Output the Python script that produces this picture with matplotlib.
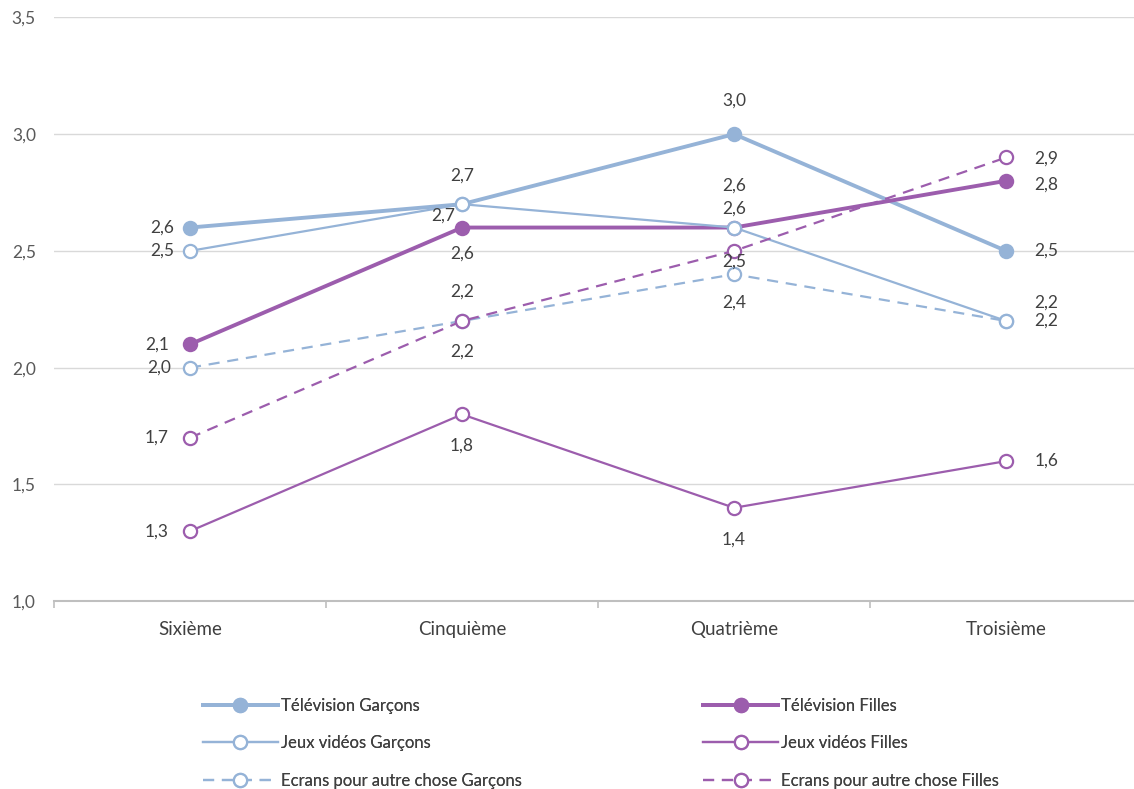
import matplotlib
matplotlib.use("Agg")
import matplotlib.pyplot as plt
from matplotlib.ticker import FuncFormatter, FixedLocator

plt.rcParams['font.family'] = ['Lato', 'DejaVu Sans']

categories = ["Sixième", "Cinquième", "Quatrième", "Troisième"]

tv_garcons = [2.6, 2.7, 3.0, 2.5]
tv_filles = [2.1, 2.6, 2.6, 2.8]
jeux_garcons = [2.5, 2.7, 2.6, 2.2]
jeux_filles = [1.3, 1.8, 1.4, 1.6]
ecrans_garcons = [2.0, 2.2, 2.4, 2.2]
ecrans_filles = [1.7, 2.2, 2.5, 2.9]

BLUE = "#95B3D7"
PURPLE = "#9C5DAD"
TXT = "#404040"
DASH = (0, (5, 3.5))

# label offsets in pixels (dx, dy), like the placement in the original
series = [
    ("Télévision Garçons", tv_garcons, BLUE, "-", 2.8, True,
     [(-28, 0), (0, 29), (0, 34), (40, 0)]),
    ("Télévision Filles", tv_filles, PURPLE, "-", 2.8, True,
     [(-33, 0), (0, -26), (0, 42), (40, -4)]),
    ("Jeux vidéos Garçons", jeux_garcons, BLUE, "-", 1.6, False,
     [(-28, 0), (-19, -11), (0, 19), (40, 18)]),
    ("Jeux vidéos Filles", jeux_filles, PURPLE, "-", 1.6, False,
     [(-33, 0), (0, -31), (0, -32), (40, 0)]),
    ("Ecrans pour autre chose Garçons", ecrans_garcons, BLUE, DASH, 1.6, False,
     [(-31, 0), (0, -31), (0, -28), (40, 0)]),
    ("Ecrans pour autre chose Filles", ecrans_filles, PURPLE, DASH, 1.6, False,
     [(-33, 0), (0, 29), (0, -11), (40, -1)]),
]

fig = plt.figure(figsize=(11.34, 7.89), dpi=100)
ax = fig.add_axes([0.0476, 0.238, 0.9524, 0.740])

x = list(range(len(categories)))
handles = {}
for name, vals, col, ls, lw, filled, offs in series:
    h, = ax.plot(x, vals, color=col, linestyle=ls, linewidth=lw,
                 marker="o", markersize=9.5, markeredgewidth=1.6,
                 markerfacecolor=col if filled else "white",
                 markeredgecolor=col, label=name, zorder=3,
                 clip_on=False)
    handles[name] = h
    for xi, v, (dx, dy) in zip(x, vals, offs):
        ax.annotate(f"{v:.1f}".replace(".", ","), (xi, v), xytext=(dx, dy),
                    textcoords="offset pixels", ha="center", va="center",
                    fontsize=12.5, color=TXT)

ax.set_xlim(-0.5, 3.47)
ax.set_ylim(1.0, 3.5)
ax.set_yticks([1.0, 1.5, 2.0, 2.5, 3.0, 3.5])
ax.yaxis.set_major_formatter(FuncFormatter(lambda v, p: f"{v:.1f}".replace(".", ",")))
ax.set_xticks(x)
ax.set_xticklabels(categories)
ax.xaxis.set_minor_locator(FixedLocator([-0.5, 0.5, 1.5, 2.5]))
ax.tick_params(axis="x", which="major", length=0, pad=14, labelsize=13.5, labelcolor=TXT)
ax.tick_params(axis="x", which="minor", length=5, width=1.2, color="#BFBFBF")
ax.tick_params(axis="y", length=0, pad=13, labelsize=12.5, labelcolor="#595959")
ax.grid(axis="y", color="#D9D9D9", linewidth=1)
ax.set_axisbelow(True)
for s in ["left", "right", "top"]:
    ax.spines[s].set_visible(False)
ax.spines["bottom"].set_color("#BFBFBF")
ax.spines["bottom"].set_linewidth(1.5)

leg_kw = dict(frameon=False, fontsize=12, handlelength=4.5, handletextpad=0.2,
              labelspacing=1.28, borderpad=0, borderaxespad=0, loc="upper left")
left_names = ["Télévision Garçons", "Jeux vidéos Garçons", "Ecrans pour autre chose Garçons"]
right_names = ["Télévision Filles", "Jeux vidéos Filles", "Ecrans pour autre chose Filles"]
for names, xa in [(left_names, 0.179), (right_names, 0.620)]:
    lg = fig.legend([handles[n] for n in names], names, bbox_to_anchor=(xa, 0.1155), **leg_kw)
    for t in lg.get_texts():
        t.set_color(TXT)
    fig.add_artist(lg)

fig.savefig("out.png", dpi=100)
